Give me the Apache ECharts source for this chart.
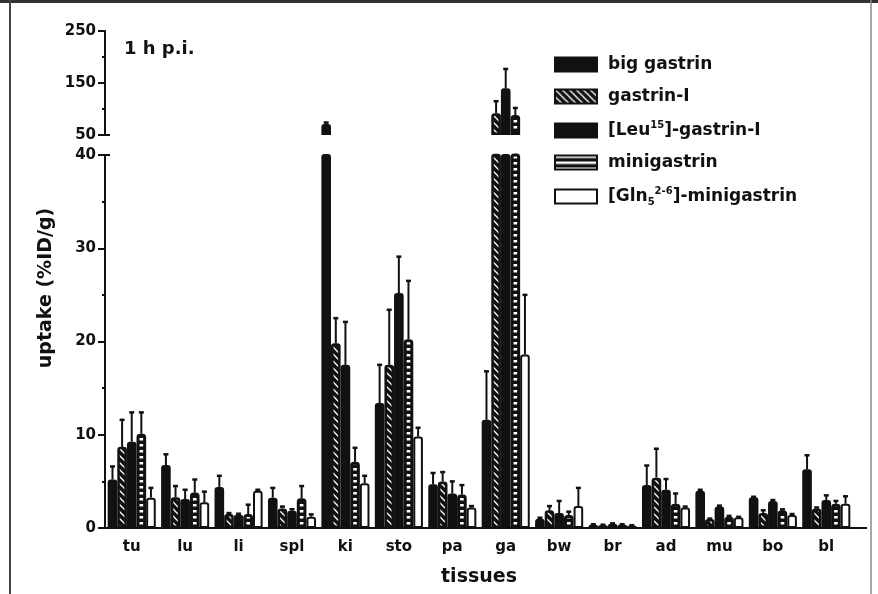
<!DOCTYPE html>
<html><head><meta charset="utf-8">
<script src="https://cdn.jsdelivr.net/npm/echarts@6/dist/echarts.min.js"></script>
<style>html,body{margin:0;padding:0;background:#fff}#c{width:878px;height:594px}</style>
</head><body><div id="c"></div>
<script>
const categories = ['tu','lu','li','spl','ki','sto','pa','ga','bw','br','ad','mu','bo','bl'];
const seriesNames = ['big gastrin','gastrin-I','[Leu15]-gastrin-I','minigastrin','[Gln5 2-6]-minigastrin'];

const bigGastrin   = [5.2, 6.75, 4.4, 3.25, 71, 13.4, 4.7, 11.6, 1.0, 0.35, 4.6, 4.0, 3.3, 6.3];
const bigGastrinSD = [1.4, 1.15, 1.2, 1.05, 3, 4.1, 1.2, 5.2, 0.1, 0.05, 2.1, 0.1, 0.05, 1.5];
const gastrinI     = [8.7, 3.3, 1.5, 2.1, 19.8, 17.5, 5.0, 92, 1.9, 0.3, 5.4, 0.96, 1.6, 2.1];
const gastrinISD   = [2.9, 1.2, 0.1, 0.2, 2.7, 5.9, 1.0, 23, 0.45, 0.05, 3.1, 0.05, 0.3, 0.1];
const leuGastrin   = [9.25, 3.1, 1.43, 1.86, 17.5, 25.2, 3.7, 140, 1.6, 0.45, 4.1, 2.3, 2.9, 3.0];
const leuGastrinSD = [3.15, 1.0, 0.1, 0.15, 4.6, 3.9, 1.3, 37, 1.3, 0.05, 1.15, 0.1, 0.1, 0.5];
const minigastrin  = [10.1, 3.8, 1.5, 3.2, 7.1, 20.25, 3.6, 88.5, 1.4, 0.35, 2.6, 1.2, 1.9, 2.6];
const minigastrinSD= [2.3, 1.4, 1.0, 1.3, 1.5, 6.25, 1.0, 13.5, 0.35, 0.05, 1.1, 0.1, 0.1, 0.3];
const glnMini      = [3.25, 2.75, 4.0, 1.2, 4.8, 9.8, 2.2, 18.6, 2.35, 0.25, 2.2, 1.15, 1.4, 2.6];
const glnMiniSD    = [1.05, 1.15, 0.1, 0.26, 0.8, 0.95, 0.15, 6.4, 1.95, 0.05, 0.1, 0.05, 0.1, 0.8];

const lowerAxis = {min: 0, max: 40, interval: 10};
const upperAxis = {min: 50, max: 250, interval: 100};

const values = [bigGastrin, gastrinI, leuGastrin, minigastrin, glnMini];
const sds = [bigGastrinSD, gastrinISD, leuGastrinSD, minigastrinSD, glnMiniSD];

const FONT = 'DejaVu Sans';
const INK = '#111';
const CAT_GAP = 0.1;

function patternDiag() {
  const c = document.createElement('canvas'); c.width = 7; c.height = 7;
  const g = c.getContext('2d');
  g.fillStyle = INK; g.fillRect(0, 0, 7, 7);
  g.strokeStyle = '#fff'; g.lineWidth = 1.3;
  [-7, 0, 7].forEach(o => { g.beginPath(); g.moveTo(o - 1, -1); g.lineTo(o + 8, 8); g.stroke(); });
  return {image: c, repeat: 'repeat'};
}
function patternHoriz() {
  const c = document.createElement('canvas'); c.width = 6; c.height = 6;
  const g = c.getContext('2d');
  g.fillStyle = INK; g.fillRect(0, 0, 6, 6);
  g.fillStyle = '#fff'; g.fillRect(0, 0, 6, 2.5);
  return {image: c, repeat: 'repeat'};
}
const fills = [INK, patternDiag(), INK, patternHoriz(), '#fff'];
const borderWidths = [2, 2.5, 2, 3, 2];

const legendRich = {
  'big gastrin': '{t|big gastrin}',
  'gastrin-I': '{t|gastrin-I}',
  '[Leu15]-gastrin-I': '{t|[Leu}{sup|15}{t|]-gastrin-I}',
  'minigastrin': '{t|minigastrin}',
  '[Gln5 2-6]-minigastrin': '{t|[Gln}{sub|5}{sup|2-6}{t|]-minigastrin}'
};

const GRID_LEFT = 105, GRID_W = 748;
const grids = [
  {left: GRID_LEFT, width: GRID_W, top: 155, height: 373},
  {left: GRID_LEFT, width: GRID_W, top: 31, height: 104}
];

function errRender(idx) {
  return function (params, api) {
    const ci = api.value(0), v = api.value(1), t = api.value(2);
    const b = api.coord([ci, v]), p = api.coord([ci, t]);
    const band = api.size([1, 0])[0];
    const bw = band * (1 - CAT_GAP) / 5;
    const x = b[0] + bw * (idx - 2);
    return {type: 'group', children: [
      {type: 'line', shape: {x1: x, y1: b[1], x2: x, y2: p[1]}, style: {stroke: INK, lineWidth: 2}},
      {type: 'line', shape: {x1: x - 2.5, y1: p[1], x2: x + 2.5, y2: p[1]}, style: {stroke: INK, lineWidth: 2.5}}
    ]};
  };
}

const series = [];
values.forEach((vals, i) => {
  const style = {color: fills[i], borderColor: INK, borderWidth: borderWidths[i], borderRadius: [2, 2, 0, 0]};
  series.push({type: 'bar', name: seriesNames[i], xAxisIndex: 0, yAxisIndex: 0, data: vals,
    barGap: '0%', barCategoryGap: (CAT_GAP * 100) + '%', itemStyle: style, clip: true, silent: true});
  series.push({type: 'bar', name: seriesNames[i], xAxisIndex: 1, yAxisIndex: 1,
    data: vals.map(v => v > upperAxis.min ? v - upperAxis.min : '-'),
    barGap: '0%', barCategoryGap: (CAT_GAP * 100) + '%', itemStyle: style, clip: true, silent: true});
});
values.forEach((vals, i) => {
  const low = [], up = [];
  vals.forEach((v, ci) => {
    const top = v + sds[i][ci];
    if (v <= lowerAxis.max) low.push([ci, v, Math.min(top, lowerAxis.max)]);
    if (v > upperAxis.min) up.push([ci, v - upperAxis.min, top - upperAxis.min]);
  });
  series.push({type: 'custom', name: 'err' + i, xAxisIndex: 0, yAxisIndex: 0, data: low,
    renderItem: errRender(i), encode: {x: 0, y: [1, 2]}, z: 5, silent: true});
  series.push({type: 'custom', name: 'errU' + i, xAxisIndex: 1, yAxisIndex: 1, data: up,
    renderItem: errRender(i), encode: {x: 0, y: [1, 2]}, z: 5, silent: true});
});

const labelStyle = {fontFamily: FONT, fontWeight: 'bold', fontSize: 15, color: INK};
const axisLine = {show: true, lineStyle: {color: INK, width: 2}};

const option = {
  backgroundColor: '#fff',
  animation: false,
  grid: grids,
  xAxis: [
    {type: 'category', gridIndex: 0, data: categories, axisLine: axisLine, axisTick: {show: false},
     axisLabel: Object.assign({margin: 12}, labelStyle),
     name: 'tissues', nameLocation: 'middle', nameGap: 40,
     nameTextStyle: {fontFamily: FONT, fontWeight: 'bold', fontSize: 19, color: INK}},
    {type: 'category', gridIndex: 1, data: categories, show: false}
  ],
  yAxis: [
    {type: 'value', gridIndex: 0, min: lowerAxis.min, max: lowerAxis.max, interval: lowerAxis.interval,
     axisLine: axisLine, axisTick: {show: true, length: 7, lineStyle: {color: INK, width: 2}},
     minorTick: {show: true, splitNumber: 2, length: 3, lineStyle: {color: INK, width: 2}},
     splitLine: {show: false}, axisLabel: Object.assign({margin: 9}, labelStyle)},
    {type: 'value', gridIndex: 1, min: 0, max: upperAxis.max - upperAxis.min, interval: upperAxis.interval,
     axisLine: axisLine, axisTick: {show: true, length: 7, lineStyle: {color: INK, width: 2}},
     minorTick: {show: true, splitNumber: 2, length: 3, lineStyle: {color: INK, width: 2}},
     splitLine: {show: false},
     axisLabel: Object.assign({margin: 9, formatter: v => String(v + upperAxis.min)}, labelStyle)}
  ],
  legend: {
    data: seriesNames, orient: 'vertical', left: 549, top: 51, itemWidth: 42, itemHeight: 14, itemGap: 15,
    icon: 'rect', selectedMode: false,
    formatter: n => legendRich[n],
    textStyle: {fontFamily: FONT, fontWeight: 'bold', fontSize: 17, color: INK, padding: [0, 0, 0, 6],
      rich: {
        t: {fontFamily: FONT, fontWeight: 'bold', fontSize: 17, color: INK, lineHeight: 21},
        sup: {fontFamily: FONT, fontWeight: 'bold', fontSize: 10, color: INK, verticalAlign: 'top', lineHeight: 21},
        sub: {fontFamily: FONT, fontWeight: 'bold', fontSize: 10, color: INK, verticalAlign: 'bottom', lineHeight: 21}
      }}
  },
  graphic: [
    {type: 'line', shape: {x1: 0, y1: 1.5, x2: 878, y2: 1.5}, style: {stroke: '#333', lineWidth: 3}, silent: true},
    {type: 'line', shape: {x1: 10, y1: 0, x2: 10, y2: 594}, style: {stroke: '#444', lineWidth: 2}, silent: true},
    {type: 'line', shape: {x1: 871, y1: 0, x2: 871, y2: 594}, style: {stroke: '#888', lineWidth: 1.5}, silent: true},
    {type: 'line', shape: {x1: GRID_LEFT + GRID_W - 1, y1: 528, x2: 867, y2: 528}, style: {stroke: INK, lineWidth: 2}, silent: true},
    {type: 'line', shape: {x1: GRID_LEFT - 1, y1: 135, x2: GRID_LEFT + 5, y2: 135}, style: {stroke: INK, lineWidth: 2}, silent: true},
    {type: 'line', shape: {x1: GRID_LEFT - 1, y1: 155, x2: GRID_LEFT + 5, y2: 155}, style: {stroke: INK, lineWidth: 2}, silent: true},
    {type: 'text', left: 124, top: 40, style: {text: '1 h p.i.', fontFamily: FONT, fontWeight: 'bold', fontSize: 18, fill: INK}, silent: true},
    {type: 'text', x: 46, y: 288, rotation: Math.PI / 2,
     style: {text: 'uptake (%ID/g)', fontFamily: FONT, fontWeight: 'bold', fontSize: 19, fill: INK, align: 'center', verticalAlign: 'middle'}, silent: true}
  ],
  series: series
};

const chart = echarts.init(document.getElementById('c'), null, {renderer: 'canvas'});
chart.setOption(option);
</script>
</body></html>
